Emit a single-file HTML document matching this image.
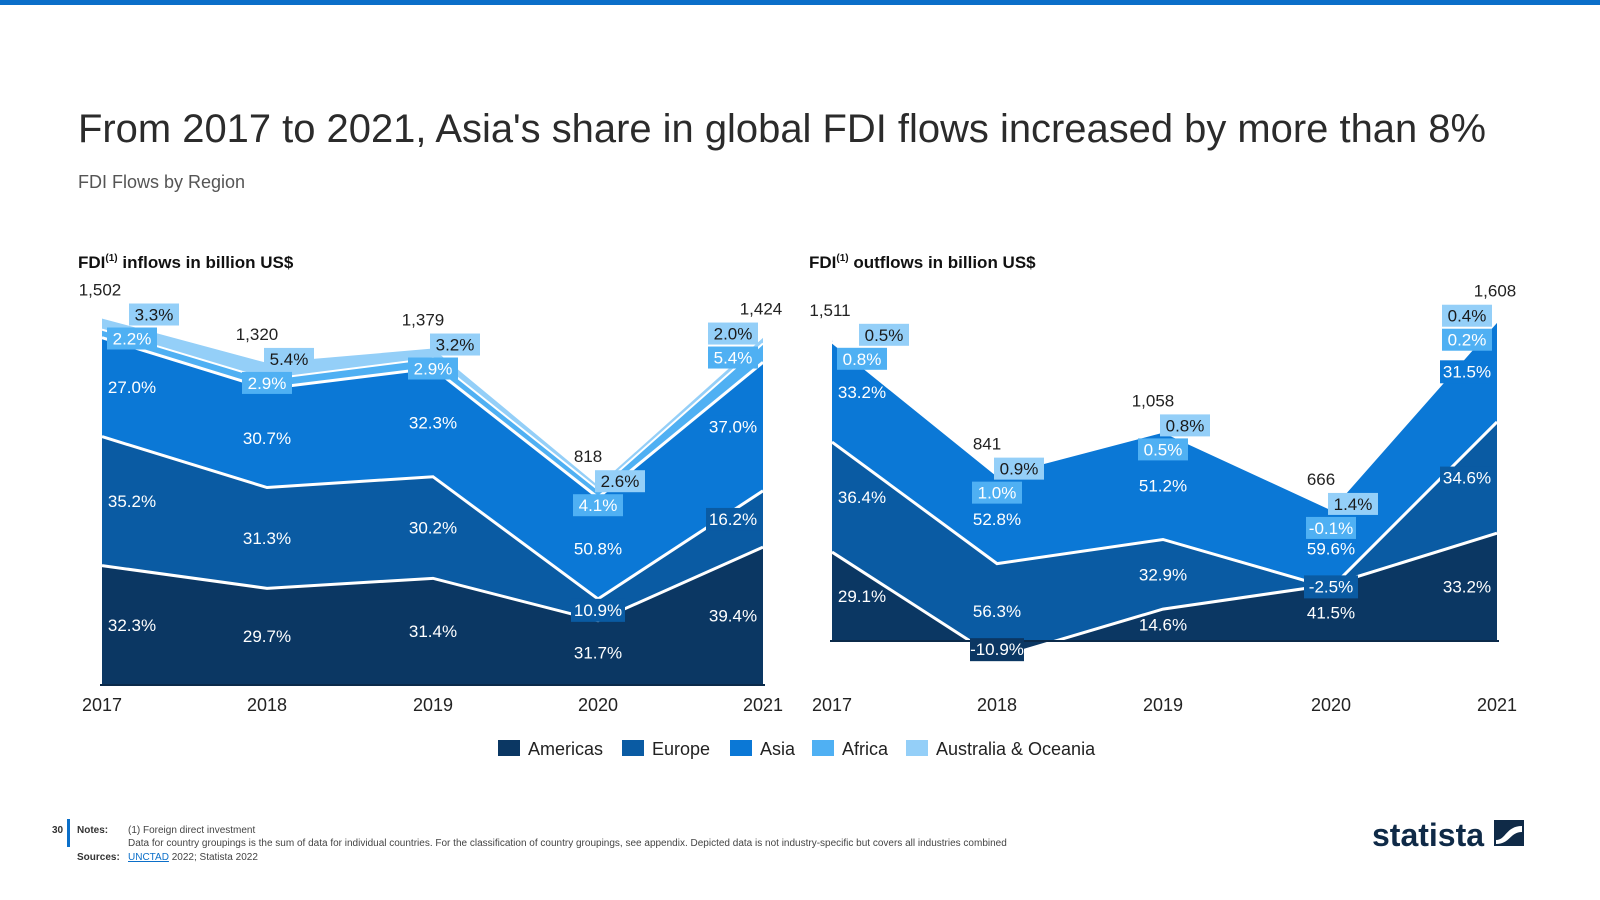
<!DOCTYPE html>
<html><head><meta charset="utf-8"><style>
html,body{margin:0;padding:0;background:#fff;}
svg{display:block;font-family:"Liberation Sans",sans-serif;}
</style></head><body>
<svg id="root" width="1600" height="900" viewBox="0 0 1600 900">
<rect x="0" y="0" width="1600" height="5" fill="#0b6fc9"/>
<text x="78" y="142" font-size="40" fill="#2b2b2b" textLength="1408" lengthAdjust="spacingAndGlyphs">From 2017 to 2021, Asia's share in global FDI flows increased by more than 8%</text>
<text x="78" y="188" font-size="18" fill="#555">FDI Flows by Region</text>
<text x="78" y="268" font-size="17" font-weight="bold" fill="#111">FDI<tspan font-size="10" dy="-7">(1)</tspan><tspan dy="7"> inflows in billion US$</tspan></text>
<text x="809" y="268" font-size="17" font-weight="bold" fill="#111">FDI<tspan font-size="10" dy="-7">(1)</tspan><tspan dy="7"> outflows in billion US$</tspan></text>
<g id="chartL"></g>
<g id="chartR"></g>
<g id="legend"></g>
<text x="52" y="833" font-size="10" font-weight="bold" fill="#333">30</text>
<rect x="67" y="819" width="3" height="28" fill="#0b6fc9"/>
<text x="77" y="833" font-size="10" font-weight="bold" fill="#333">Notes:</text>
<text x="128" y="833" font-size="10" fill="#444">(1) Foreign direct investment</text>
<text x="128" y="846" font-size="10" fill="#444">Data for country groupings is the sum of data for individual countries. For the classification of country groupings, see appendix. Depicted data is not industry-specific but covers all industries combined</text>
<text x="77" y="860" font-size="10" font-weight="bold" fill="#333">Sources:</text>
<text x="128" y="860" font-size="10" fill="#444"><tspan fill="#0b6fc9" text-decoration="underline">UNCTAD</tspan> 2022; Statista 2022</text>
<text x="1372" y="846" font-size="32" font-weight="bold" fill="#0f2a47">statista</text>
<g><rect x="1494" y="820" width="30" height="26" fill="#0f2a47"/><path d="M1496 840 C1506 840 1506 826 1522 826 L1522 832 C1510 832 1510 844 1496 844 Z" fill="#fff"/></g>
</svg>
<script>
const years = ["2017","2018","2019","2020","2021"];
const regions = ["Americas","Europe","Asia","Africa","Australia & Oceania"];
const inTotals = [1502,1320,1379,818,1424];
const inAmericas = [32.3,29.7,31.4,31.7,39.4];
const inEurope = [35.2,31.3,30.2,10.9,16.2];
const inAsia = [27.0,30.7,32.3,50.8,37.0];
const inAfrica = [2.2,2.9,2.9,4.1,5.4];
const inAustralia = [3.3,5.4,3.2,2.6,2.0];
const outTotals = [1511,841,1058,666,1608];
const outAmericas = [29.1,-10.9,14.6,41.5,33.2];
const outEurope = [36.4,56.3,32.9,-2.5,34.6];
const outAsia = [33.2,52.8,51.2,59.6,31.5];
const outAfrica = [0.8,1.0,0.5,-0.1,0.2];
const outAustralia = [0.5,0.9,0.8,1.4,0.4];
const totalLabels = ["1,502","1,320","1,379","818","1,424"];
const outTotalLabels = ["1,511","841","1,058","666","1,608"];

const colors = ["#0b3763","#0a5ba3","#0b78d6","#4fb0f3","#94cff8"];
const NS = "http://www.w3.org/2000/svg";
function mk(tag, attrs, parent){const e=document.createElementNS(NS,tag);for(const k in attrs)e.setAttribute(k,attrs[k]);parent.appendChild(e);return e;}
const fmt = v => v.toFixed(1)+"%";

function drawChart(g, xs, base, k, totals, series, tlabels, prefix, axisY){
  const xf = i => xs[i];
  const yf = v => base - v*k;
  const n = years.length;
  const cum = [new Array(n).fill(0)];
  series.forEach((s,si)=>{cum.push(s.map((p,i)=>cum[si][i]+p*totals[i]/100));});
  const order=[4,3,2,1,0];
  order.forEach(si=>{
    const lo = si===0 ? new Array(n).fill(0) : cum[si];
    const hi = cum[si+1];
    let d="";
    for(let i=0;i<n;i++) d+=(i?"L":"M")+xf(i)+" "+yf(hi[i])+" ";
    for(let i=n-1;i>=0;i--) d+="L"+xf(i)+" "+yf(lo[i])+" ";
    const p=mk("path",{d:d+"Z",fill:colors[si]},g);
    
    
  });
  for(let si=1;si<=5;si++){
    let d="";
    for(let i=0;i<n;i++) d+=(i?"L":"M")+xf(i)+" "+yf(cum[si][i])+" ";
    const l=mk("path",{d:d,fill:"none",stroke:"#fff","stroke-width":si>=4?2:3},g);
    
    
  }
  const ax=mk("line",{x1:xs[0]-2,x2:xs[n-1]+2,y1:axisY,y2:axisY,stroke:"#0b2a4a","stroke-width":2},g);
  
  
  for(let i=0;i<n;i++){
    const lx = i===0 ? xf(i)+30 : (i===n-1 ? xf(i)-30 : xf(i));
    for(let si=0;si<3;si++){
      const lo = si===0?0:cum[si][i], hi=cum[si+1][i];
      let ly = yf((lo+hi)/2)+6;
      const val = series[si][i];
      const small = Math.abs(hi-lo)*k<26 || (i===n-1 && si>0);
      if(small){
        const r=mk("rect",{x:lx-27,y:ly-17,width:54,height:23,fill:colors[si]},g);
        
        
      }
      const t=mk("text",{x:lx,y:ly,"text-anchor":"middle","font-size":17,fill:"#fff"},g);
      t.textContent=fmt(val);
      
      
    }
    const top = yf(cum[5][i]);
    [[3,top+26],[4,top+2]].forEach(([si,by])=>{
      const bx = lx + (si===4 && i<n-1 ? 22 : 0);
      const r=mk("rect",{x:bx-25,y:by-16,width:50,height:22,fill:colors[si]},g);
      
      
      const t=mk("text",{x:bx,y:by+1,"text-anchor":"middle","font-size":17,fill:si===3?"#fff":"#1a1a1a"},g);
      t.textContent=fmt(series[si][i]);
      
      
    });
    const tt=mk("text",{x:i===0?xf(i)-2:(i===n-1?xf(i)-2:xf(i)-10),y:top-22,"text-anchor":"middle","font-size":17,fill:"#222"},g);
    tt.textContent=tlabels[i];
    
    
    const yl=mk("text",{x:xf(i),y:711,"text-anchor":"middle","font-size":18,fill:"#222"},g);
    yl.textContent=years[i];
    
    
  }
}
drawChart(document.getElementById("chartL"),[102,267,433,598,763],684,0.244,inTotals,[inAmericas,inEurope,inAsia,inAfrica,inAustralia],totalLabels,"inflows",685);
drawChart(document.getElementById("chartR"),[832,997,1163,1331,1497],640,0.2,outTotals,[outAmericas,outEurope,outAsia,outAfrica,outAustralia],outTotalLabels,"outflows",641);

const lg=document.getElementById("legend");
const lx=[498,622,730,812,906];
regions.forEach((r,i)=>{
  const s=mk("rect",{x:lx[i],y:740,width:22,height:16,fill:colors[i]},lg);
  
  
  const t=mk("text",{x:lx[i]+30,y:755,"font-size":18,fill:"#222"},lg);
  t.textContent=r;
  
  
});
</script>
</body></html>
